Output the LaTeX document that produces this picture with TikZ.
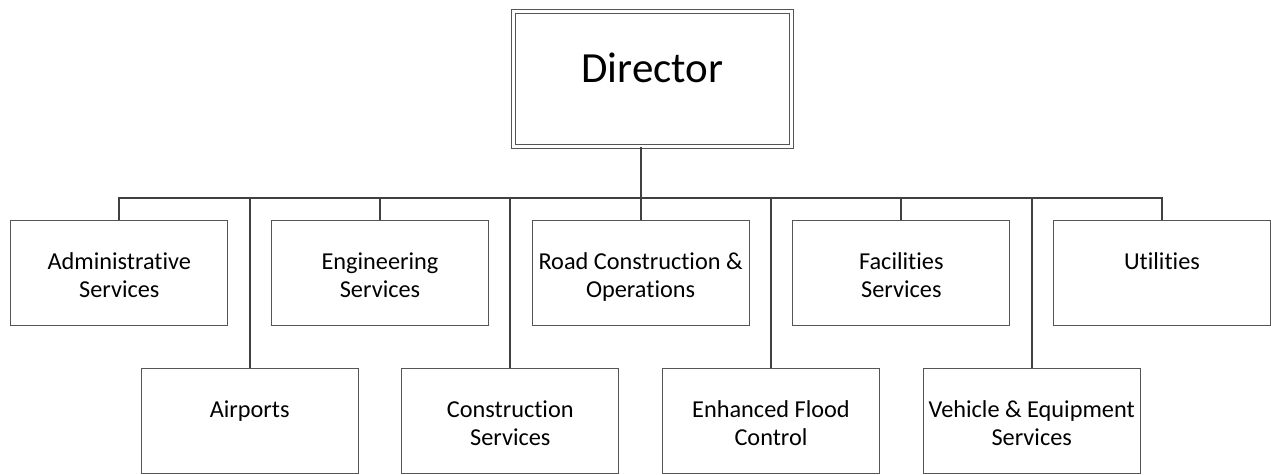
\documentclass[tikz,border=0pt]{standalone}
\usepackage{fontspec}
\setmainfont{Carlito}[Ligatures=NoCommon]
\usepackage{tikz}
\usetikzlibrary{positioning, calc}

\definecolor{linegray}{HTML}{404040}
\definecolor{boxgray}{HTML}{555555}

% text of a unit box, set near the top of the box
\newcommand{\unitlabel}[1]{\parbox[c][105bp][t]{217bp}{\centering\vspace*{29bp}\strut #1}}

\begin{document}
\begin{tikzpicture}[x=1bp, y=-1bp,
    unitbox/.style={draw=boxgray, line width=1.1bp, inner sep=0pt,
        font=\fontsize{24.3bp}{28bp}\selectfont},
    headbox/.style={draw=boxgray, line width=1.1bp, double, double distance=2.6bp,
        minimum width=278bp, minimum height=135bp, inner sep=0pt,
        text height=27.5bp, text depth=19.7bp,
        font=\fontsize{43bp}{50bp}\selectfont},
    link/.style={draw=linegray, line width=2.2bp}]

    \useasboundingbox (0,0) rectangle (1271,475);

    % Director
    \node[headbox] (dir) at (652.3,78.8) {Director};

    % First row of units
    \node[unitbox] (admin) at (119.3,273.2) {\unitlabel{Administrative\\Services}};
    \node[unitbox] (eng)   at (380.0,273.2) {\unitlabel{Engineering\\Services}};
    \node[unitbox] (road)  at (640.6,273.2) {\unitlabel{Road Construction \&\\Operations}};
    \node[unitbox] (fac)   at (901.3,273.2) {\unitlabel{Facilities\\Services}};
    \node[unitbox] (util)  at (1162.0,273.2) {\unitlabel{Utilities}};

    % Second row of units
    \node[unitbox] (air)   at (249.7,421.0) {\unitlabel{Airports}};
    \node[unitbox] (cons)  at (510.3,421.0) {\unitlabel{Construction\\Services}};
    \node[unitbox] (flood) at (771.0,421.0) {\unitlabel{Enhanced Flood\\Control}};
    \node[unitbox] (veh)   at (1031.7,421.0) {\unitlabel{Vehicle \& Equipment\\Services}};

    % Bus line and drops
    \coordinate (bus) at (640.6,198);
    \draw[link] (dir.south -| road.north) -- (road.north);
    \draw[link] (admin.north) -- (admin.north |- bus) -- (util.north |- bus) -- (util.north);
    \foreach \n in {eng, fac, air, cons, flood, veh}
        \draw[link] (\n.north |- bus) -- (\n.north);

\end{tikzpicture}
\end{document}
